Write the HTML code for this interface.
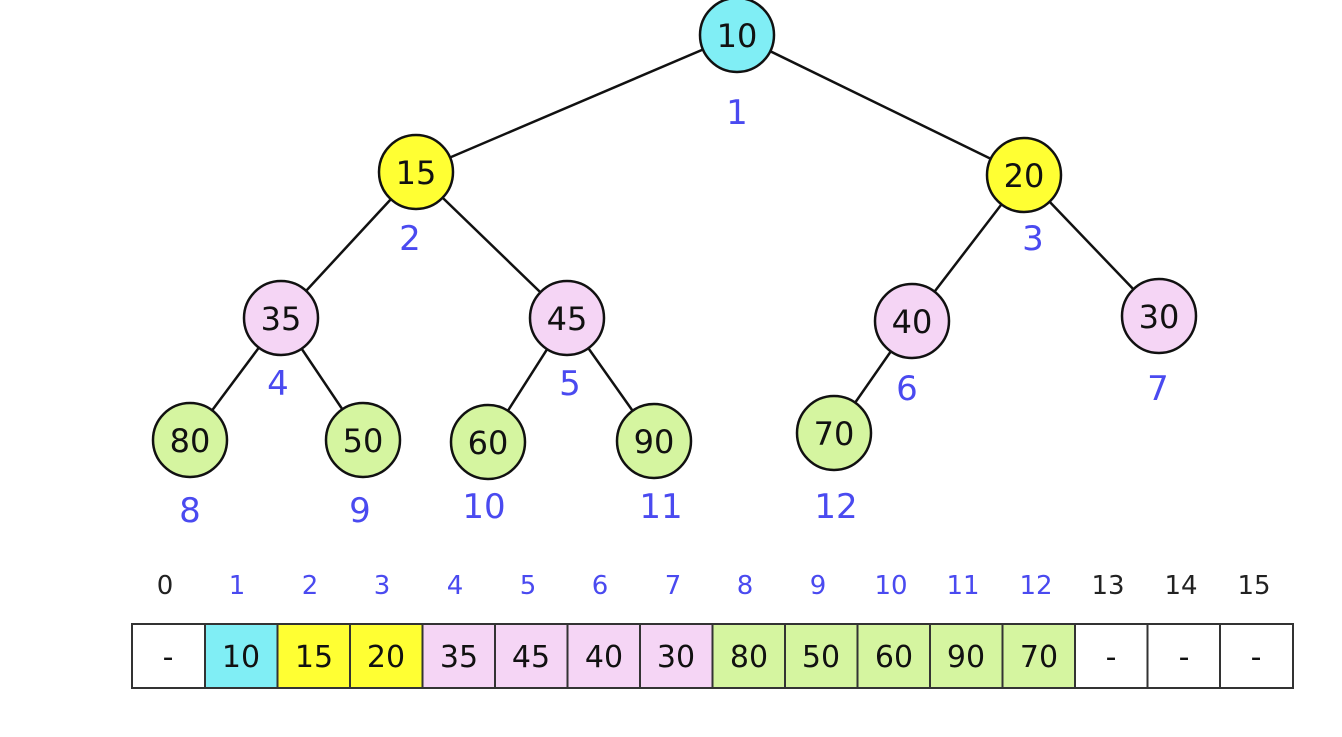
<!DOCTYPE html>
<html><head><style>body{margin:0;background:#fff}</style></head><body>
<svg width="1342" height="732" xmlns="http://www.w3.org/2000/svg" font-family="'DejaVu Sans','Liberation Sans',sans-serif">
<g stroke="#111" stroke-width="2.5">
<line x1="737" y1="35" x2="416" y2="172"/><line x1="737" y1="35" x2="1024" y2="175"/>
<line x1="416" y1="172" x2="281" y2="318"/><line x1="416" y1="172" x2="567" y2="318"/>
<line x1="1024" y1="175" x2="912" y2="321"/><line x1="1024" y1="175" x2="1159" y2="316"/>
<line x1="281" y1="318" x2="190" y2="440"/><line x1="281" y1="318" x2="363" y2="440"/>
<line x1="567" y1="318" x2="488" y2="442"/><line x1="567" y1="318" x2="654" y2="441"/>
<line x1="912" y1="321" x2="834" y2="433"/>
</g>
<g stroke="#111" stroke-width="2.5">
<circle cx="737" cy="35" r="37" fill="#80eef5"/>
<circle cx="416" cy="172" r="37" fill="#ffff33"/><circle cx="1024" cy="175" r="37" fill="#ffff33"/>
<circle cx="281" cy="318" r="37" fill="#f5d5f5"/><circle cx="567" cy="318" r="37" fill="#f5d5f5"/>
<circle cx="912" cy="321" r="37" fill="#f5d5f5"/><circle cx="1159" cy="316" r="37" fill="#f5d5f5"/>
<circle cx="190" cy="440" r="37" fill="#d5f5a0"/><circle cx="363" cy="440" r="37" fill="#d5f5a0"/>
<circle cx="488" cy="442" r="37" fill="#d5f5a0"/><circle cx="654" cy="441" r="37" fill="#d5f5a0"/>
<circle cx="834" cy="433" r="37" fill="#d5f5a0"/>
</g>
<g font-size="32" text-anchor="middle" fill="#111">
<text x="737" y="47">10</text><text x="416" y="184">15</text><text x="1024" y="187">20</text>
<text x="281" y="330">35</text><text x="567" y="330">45</text><text x="912" y="333">40</text><text x="1159" y="328">30</text>
<text x="190" y="452">80</text><text x="363" y="452">50</text><text x="488" y="454">60</text><text x="654" y="453">90</text><text x="834" y="445">70</text>
</g>
<g font-size="34" text-anchor="middle" fill="#4a4af0">
<text x="737" y="124">1</text><text x="410" y="250">2</text><text x="1033" y="250">3</text>
<text x="278" y="395">4</text><text x="570" y="395">5</text><text x="907" y="400">6</text><text x="1158" y="400">7</text>
<text x="190" y="522">8</text><text x="360" y="522">9</text><text x="484" y="518">10</text><text x="661" y="518">11</text><text x="836" y="518">12</text>
</g>
<g font-size="26" text-anchor="middle">
<text x="165" y="594" fill="#222">0</text>
<text x="237" y="594" fill="#4a4af0">1</text><text x="310" y="594" fill="#4a4af0">2</text><text x="382" y="594" fill="#4a4af0">3</text>
<text x="455" y="594" fill="#4a4af0">4</text><text x="528" y="594" fill="#4a4af0">5</text><text x="600" y="594" fill="#4a4af0">6</text>
<text x="673" y="594" fill="#4a4af0">7</text><text x="745" y="594" fill="#4a4af0">8</text><text x="818" y="594" fill="#4a4af0">9</text>
<text x="891" y="594" fill="#4a4af0">10</text><text x="963" y="594" fill="#4a4af0">11</text><text x="1036" y="594" fill="#4a4af0">12</text>
<text x="1108" y="594" fill="#222">13</text><text x="1181" y="594" fill="#222">14</text><text x="1254" y="594" fill="#222">15</text>
</g>
<g stroke="#333" stroke-width="2">
<rect x="132" y="624" width="73" height="64" fill="#fff"/>
<rect x="205" y="624" width="72.5" height="64" fill="#80eef5"/>
<rect x="277.5" y="624" width="72.5" height="64" fill="#ffff33"/>
<rect x="350" y="624" width="72.5" height="64" fill="#ffff33"/>
<rect x="422.5" y="624" width="72.5" height="64" fill="#f5d5f5"/>
<rect x="495" y="624" width="72.5" height="64" fill="#f5d5f5"/>
<rect x="567.5" y="624" width="72.5" height="64" fill="#f5d5f5"/>
<rect x="640" y="624" width="72.5" height="64" fill="#f5d5f5"/>
<rect x="712.5" y="624" width="72.5" height="64" fill="#d5f5a0"/>
<rect x="785" y="624" width="72.5" height="64" fill="#d5f5a0"/>
<rect x="857.5" y="624" width="72.5" height="64" fill="#d5f5a0"/>
<rect x="930" y="624" width="72.5" height="64" fill="#d5f5a0"/>
<rect x="1002.5" y="624" width="72.5" height="64" fill="#d5f5a0"/>
<rect x="1075" y="624" width="72.5" height="64" fill="#fff"/>
<rect x="1147.5" y="624" width="72.5" height="64" fill="#fff"/>
<rect x="1220" y="624" width="73" height="64" fill="#fff"/>
</g>
<g font-size="30" text-anchor="middle" fill="#111">
<text x="168" y="667">-</text><text x="241" y="667">10</text><text x="314" y="667">15</text><text x="386" y="667">20</text>
<text x="459" y="667">35</text><text x="531" y="667">45</text><text x="604" y="667">40</text><text x="676" y="667">30</text>
<text x="749" y="667">80</text><text x="821" y="667">50</text><text x="894" y="667">60</text><text x="966" y="667">90</text>
<text x="1039" y="667">70</text><text x="1111" y="667">-</text><text x="1184" y="667">-</text><text x="1256" y="667">-</text>
</g>
</svg>
</body></html>
